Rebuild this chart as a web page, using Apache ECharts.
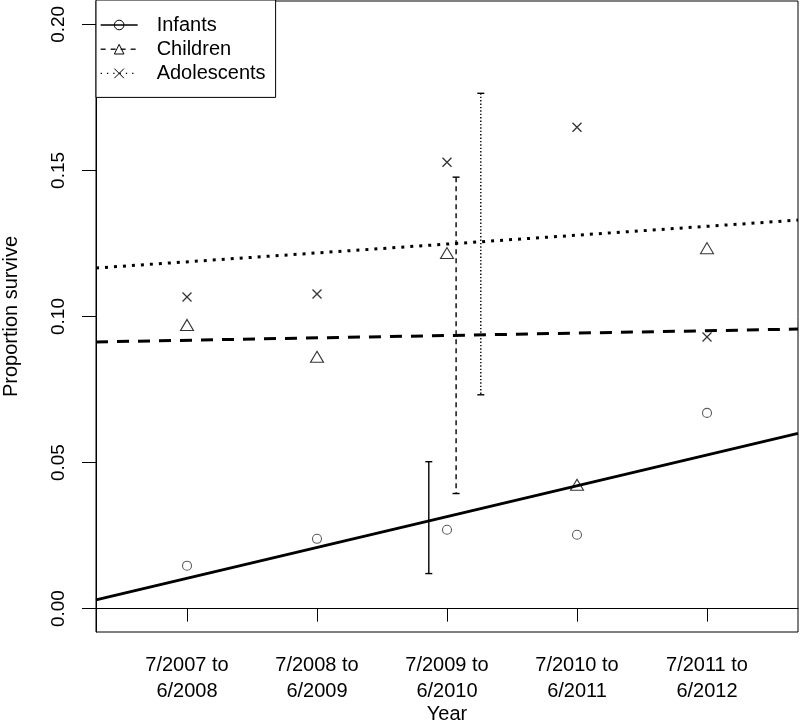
<!DOCTYPE html>
<html><head><meta charset="utf-8">
<script src="https://cdn.jsdelivr.net/npm/echarts@6/dist/echarts.min.js"></script>
<style>html,body{margin:0;padding:0;background:#fff}#c{width:800px;height:724px}</style>
</head><body><div id="c"></div>
<script>
const categories = ['7/2007 to\n6/2008', '7/2008 to\n6/2009', '7/2009 to\n6/2010', '7/2010 to\n6/2011', '7/2011 to\n6/2012'];
const xPositions = [1, 2, 3, 4, 5];
const infants = [0.0147, 0.0239, 0.0270, 0.0253, 0.0670];
const children = [0.0971, 0.0862, 0.1217, 0.0424, 0.1234];
const adolescents = [0.1067, 0.1077, 0.1528, 0.1648, 0.0930];
const fitX = [0.3, 5.7];
const infantsFit = [0.0030, 0.0600];
const childrenFit = [0.0913, 0.0957];
const adolescentsFit = [0.1166, 0.1330];
const errX = [2.86, 3.07, 3.26];
const errLow = [0.0120, 0.0394, 0.0732];
const errHigh = [0.0503, 0.1477, 0.1764];
const yTicks = [0, 0.05, 0.10, 0.15, 0.20];
const yTickLabels = ['0.00', '0.05', '0.10', '0.15', '0.20'];

const FONT = '"Liberation Sans", Arial, sans-serif';
const FS = 20;
const xSym = 'path://M0,0L10,10M10,0L0,10';

function pairs(xs, ys) { return xs.map((x, i) => [x, ys[i]]); }

function errSeries(i, dash) {
  return {
    type: 'custom', name: 'err' + i, silent: true, z: 3,
    data: [[errX[i], errLow[i], errHigh[i]]],
    renderItem: function (params, api) {
      const x = api.value(0), lo = api.value(1), hi = api.value(2);
      const pt = api.coord([x, hi]), pb = api.coord([x, lo]);
      const w = 3.5;
      const st = { stroke: '#000', lineWidth: 1.4, lineDash: dash, fill: null };
      return { type: 'group', children: [
        { type: 'line', shape: { x1: pt[0], y1: pt[1], x2: pb[0], y2: pb[1] }, style: st },
        { type: 'line', shape: { x1: pt[0] - w, y1: pt[1], x2: pt[0] + w, y2: pt[1] }, style: { stroke: '#000', lineWidth: 1.4 } },
        { type: 'line', shape: { x1: pb[0] - w, y1: pb[1], x2: pb[0] + w, y2: pb[1] }, style: { stroke: '#000', lineWidth: 1.4 } }
      ] };
    }
  };
}

const chart = echarts.init(document.getElementById('c'), null, { renderer: 'canvas' });
const hollow = { color: 'rgba(0,0,0,0)', borderColor: '#000', borderWidth: 1 };
chart.setOption({
  animation: false,
  backgroundColor: '#fff',
  textStyle: { fontFamily: FONT, color: '#000' },
  grid: { left: 96, right: 2, top: 1, bottom: 92, show: true, borderColor: '#000', borderWidth: 1, backgroundColor: 'transparent', outerBoundsMode: 'none' },
  legend: {
    orient: 'vertical', left: 96, top: 0,
    padding: [15, 10, 14, 4],
    itemWidth: 37, itemHeight: 12, itemGap: 4.2,
    borderColor: '#000', borderWidth: 1, borderRadius: 0, backgroundColor: '#fff',
    textStyle: { fontFamily: FONT, fontSize: FS, color: '#000', lineHeight: 20, padding: [0, 0, 0, 14] },
    itemStyle: hollow,
    data: [
      { name: 'Infants', lineStyle: { width: 1.3, type: 'solid', color: '#000' } },
      { name: 'Children', lineStyle: { width: 1.3, type: [5, 5], color: '#000' } },
      { name: 'Adolescents', lineStyle: { width: 1.3, type: [1.3, 5], color: '#000' } }
    ]
  },
  xAxis: {
    type: 'value', min: 0.3, max: 5.7,
    name: 'Year', nameLocation: 'middle', nameGap: 72, nameMoveOverlap: false,
    nameTextStyle: { fontFamily: FONT, fontSize: FS, color: '#000' },
    splitLine: { show: false },
    axisLine: { show: true, lineStyle: { color: '#000', width: 1 } },
    axisTick: { show: true, customValues: xPositions, length: 13, lineStyle: { color: '#000' } },
    axisLabel: { customValues: xPositions, margin: 20, fontFamily: FONT, fontSize: FS, color: '#000', lineHeight: 26.5,
      formatter: v => categories[Math.round(v) - 1] }
  },
  yAxis: {
    type: 'value', min: -0.008, max: 0.208,
    name: 'Proportion survive', nameLocation: 'middle', nameGap: 75, nameMoveOverlap: false,
    nameTextStyle: { fontFamily: FONT, fontSize: FS, color: '#000' },
    splitLine: { show: false },
    axisLine: { show: true, lineStyle: { color: '#000', width: 1 } },
    axisTick: { show: true, customValues: yTicks, length: 14, lineStyle: { color: '#000' } },
    axisLabel: { customValues: yTicks, rotate: 90, margin: 28, fontFamily: FONT, fontSize: 19, color: '#000',
      formatter: v => yTickLabels[yTicks.findIndex(t => Math.abs(t - v) < 1e-9)] }
  },
  series: [
    { type: 'line', name: 'Infants', data: pairs(fitX, infantsFit), showSymbol: false, symbol: 'circle', symbolSize: 9,
      itemStyle: hollow, lineStyle: { color: '#000', width: 3, type: 'solid' }, z: 2 },
    { type: 'line', name: 'Children', data: pairs(fitX, childrenFit), showSymbol: false, symbol: 'triangle', symbolSize: 10,
      itemStyle: hollow, lineStyle: { color: '#000', width: 3, type: [12, 9] }, z: 2 },
    { type: 'line', name: 'Adolescents', data: pairs(fitX, adolescentsFit), showSymbol: false, symbol: xSym, symbolSize: 8,
      itemStyle: hollow, lineStyle: { color: '#000', width: 3, type: [3, 6] }, z: 2 },
    { type: 'scatter', name: 'infPts', data: pairs(xPositions, infants), symbol: 'circle', symbolSize: 9,
      itemStyle: { color: 'rgba(0,0,0,0)', borderColor: '#333', borderWidth: 1.1 }, z: 4 },
    { type: 'scatter', name: 'chPts', data: pairs(xPositions, children), symbol: 'triangle', symbolSize: [13, 11],
      itemStyle: { color: 'rgba(0,0,0,0)', borderColor: '#000', borderWidth: 1.1 }, z: 4 },
    { type: 'scatter', name: 'adPts', data: pairs(xPositions, adolescents), symbol: xSym, symbolSize: 9,
      itemStyle: { color: 'rgba(0,0,0,0)', borderColor: '#000', borderWidth: 1.3 }, z: 4 },
    errSeries(0, null),
    errSeries(1, [5, 4]),
    errSeries(2, [1.4, 2])
  ]
});
</script></body></html>
